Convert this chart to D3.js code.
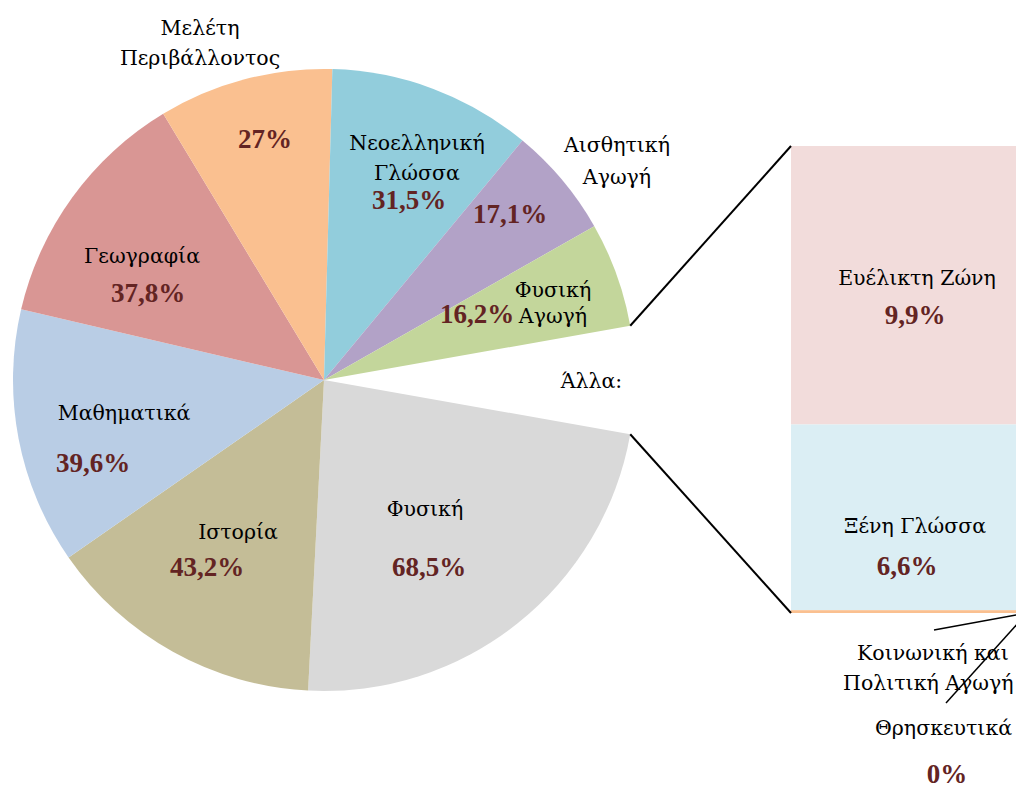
<!DOCTYPE html>
<html>
<head>
<meta charset="utf-8">
<script src="https://cdn.jsdelivr.net/npm/d3@7"></script>
<style>
  body { margin: 0; background: #fff; }
  svg { display: block; font-family: "Liberation Serif", "DejaVu Serif", serif; }
  .lbl { font-family: "DejaVu Serif", serif; }
</style>
</head>
<body>
<svg id="chart" width="1016" height="787"></svg>
<script>
// pie part (clockwise, starting right after the "Άλλα" gap)
const categories = ["Φυσική", "Ιστορία", "Μαθηματικά", "Γεωγραφία", "Μελέτη Περιβάλλοντος",
                    "Νεοελληνική Γλώσσα", "Αισθητική Αγωγή", "Φυσική Αγωγή"];
const values = [68.5, 43.2, 39.6, 37.8, 27, 31.5, 17.1, 16.2];
const colors = ["#d9d9d9", "#c4bd97", "#b9cde5", "#d99694", "#fac090", "#92cddc", "#b2a2c7", "#c3d69b"];

// bar part ("Άλλα")
const otherCategories = ["Ευέλικτη Ζώνη", "Ξένη Γλώσσα", "Κοινωνική και Πολιτική Αγωγή", "Θρησκευτικά"];
const otherValues = [9.9, 6.6, 0.1, 0];
const otherColors = ["#f2dcdb", "#dbeef4", "#fac090", "#ccc1da"];

const otherLabel = "Άλλα:";

const fmt = v => String(v).replace(".", ",") + "%";

const svg = d3.select("#chart");
const cx = 324, cy = 380, R = 311;
const pctColor = "#632423";

const otherTotal = d3.sum(otherValues);
const total = d3.sum(values) + otherTotal;
const gap = otherTotal / total * 2 * Math.PI;

// the "Άλλα" slice is first, centred on 3 o'clock, and left empty
const pieData = [{name: otherLabel, value: otherTotal, other: true}]
  .concat(categories.map((c, i) => ({name: c, value: values[i], color: colors[i]})));

const start = Math.PI / 2 - gap / 2;
const pie = d3.pie().sort(null).value(d => d.value)
  .startAngle(start).endAngle(start + 2 * Math.PI);
const arc = d3.arc().innerRadius(0).outerRadius(R);

const g = svg.append("g").attr("transform", `translate(${cx},${cy})`);
const arcs = pie(pieData);

g.selectAll("path")
  .data(arcs.filter(d => !d.data.other))
  .enter()
  .append("path")
  .attr("d", arc)
  .attr("fill", d => d.data.color);

// bar of "Άλλα"
const barX = 791, barW = 254, barTop = 146, barBottom = 613;
const y = d3.scaleLinear().domain([0, otherTotal]).range([barTop, barBottom]);
let acc = 0;
const stack = otherValues.map((v, i) => {
  const s = {name: otherCategories[i], value: v, y0: acc, y1: acc + v, color: otherColors[i]};
  acc += v;
  return s;
});

svg.selectAll("rect.other")
  .data(stack)
  .enter()
  .append("rect")
  .attr("class", "other")
  .attr("x", barX)
  .attr("width", barW)
  .attr("y", d => y(d.y0))
  .attr("height", d => Math.max(0, y(d.y1) - y(d.y0)))
  .attr("fill", d => d.color);

// connector lines from the gap edges to the bar
const otherArc = arcs[0];
const edge = a => [cx + R * Math.sin(a), cy - R * Math.cos(a)];
const p1 = edge(otherArc.startAngle), p2 = edge(otherArc.endAngle);
svg.append("line")
  .attr("x1", p1[0]).attr("y1", p1[1]).attr("x2", barX).attr("y2", y(0))
  .attr("stroke", "#000").attr("stroke-width", 2);
svg.append("line")
  .attr("x1", p2[0]).attr("y1", p2[1]).attr("x2", barX).attr("y2", y(otherTotal))
  .attr("stroke", "#000").attr("stroke-width", 2);

// label placement (baselines, relative to pie centre)
const pieLabelPos = [
  {name: [[101, 136]], pct: [105, 196]},
  {name: [[-86, 159]], pct: [-117, 196]},
  {name: [[-200, 40]], pct: [-231, 92]},
  {name: [[-182, -117]], pct: [-176, -78]},
  {name: [[-124, -345], [-124, -315]], pct: [-59, -232]},
  {name: [[93, -230], [93, -200]], pct: [85, -171]},
  {name: [[293, -228], [293, -196]], pct: [186, -157]},
  {name: [[229, -83], [229, -57]], pct: [153, -57]}
];

const labelSize = 20.5, pctSize = 27;

arcs.filter(d => !d.data.other).forEach((d, i) => {
  const pos = pieLabelPos[i];
  const words = pos.name.length > 1 ? d.data.name.split(" ") : [d.data.name];
  words.forEach((w, j) => {
    g.append("text")
      .attr("class", "lbl")
      .attr("x", pos.name[j][0]).attr("y", pos.name[j][1])
      .attr("text-anchor", "middle")
      .attr("font-size", labelSize)
      .attr("fill", "#000")
      .text(w);
  });
  g.append("text")
    .attr("x", pos.pct[0]).attr("y", pos.pct[1])
    .attr("text-anchor", "middle")
    .attr("font-size", pctSize)
    .attr("font-weight", "bold")
    .attr("fill", pctColor)
    .text(fmt(d.data.value));
});

// "Άλλα:" label inside the gap
const mid = (otherArc.startAngle + otherArc.endAngle) / 2;
g.append("text")
  .attr("class", "lbl")
  .attr("x", 0.86 * R * Math.sin(mid)).attr("y", -0.86 * R * Math.cos(mid) + 8)
  .attr("text-anchor", "middle")
  .attr("font-size", labelSize)
  .text(otherLabel);

// bar labels
const barMid = barX + barW / 2;
const barLabelOff = [[0, 39], [16, 58]];
stack.slice(0, 2).forEach((d, i) => {
  const ym = (y(d.y0) + y(d.y1)) / 2;
  svg.append("text")
    .attr("class", "lbl")
    .attr("x", barMid - 1 - i * 2).attr("y", ym + barLabelOff[i][0])
    .attr("text-anchor", "middle")
    .attr("font-size", labelSize)
    .text(d.name);
  svg.append("text")
    .attr("x", barMid - 3 - i * 8).attr("y", ym + barLabelOff[i][1])
    .attr("text-anchor", "middle")
    .attr("font-size", pctSize)
    .attr("font-weight", "bold")
    .attr("fill", pctColor)
    .text(fmt(d.value));
});

// small segments below the bar, labelled outside with leader lines
const anchor = [barX + barW * 0.93, y(otherTotal)];
const thr = stack[3];
const koinWords = ["Κοινωνική και", "Πολιτική Αγωγή"];
koinWords.forEach((w, j) => {
  svg.append("text")
    .attr("class", "lbl")
    .attr("x", 857 + j * -14).attr("y", 660 + j * 30)
    .attr("text-anchor", "start")
    .attr("font-size", labelSize)
    .text(w);
});
svg.append("line")
  .attr("x1", 934).attr("y1", 630).attr("x2", anchor[0]).attr("y2", anchor[1])
  .attr("stroke", "#000").attr("stroke-width", 1.5);

svg.append("text")
  .attr("class", "lbl")
  .attr("x", 875).attr("y", 735)
  .attr("text-anchor", "start")
  .attr("font-size", labelSize)
  .text(thr.name);
svg.append("text")
  .attr("x", 947).attr("y", 783)
  .attr("text-anchor", "middle")
  .attr("font-size", pctSize)
  .attr("font-weight", "bold")
  .attr("fill", pctColor)
  .text(fmt(thr.value));
svg.append("line")
  .attr("x1", 946).attr("y1", 703).attr("x2", anchor[0]).attr("y2", anchor[1])
  .attr("stroke", "#000").attr("stroke-width", 1.5);
</script>
</body>
</html>
